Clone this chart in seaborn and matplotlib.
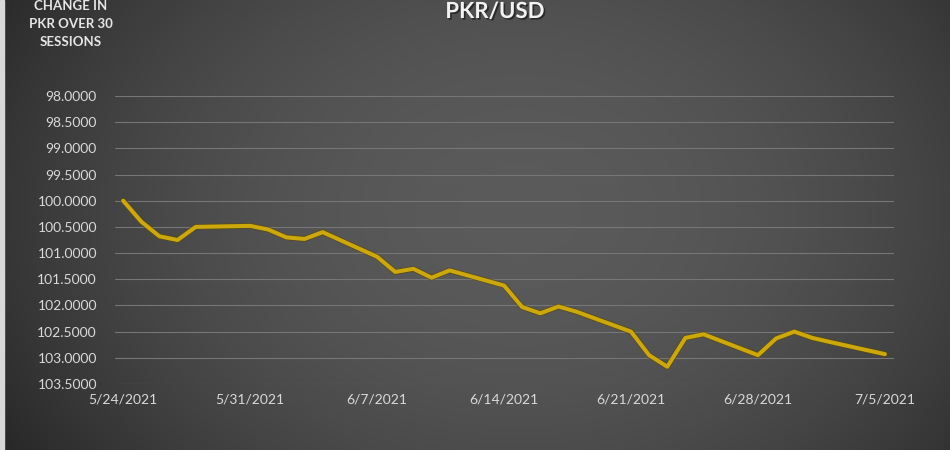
import numpy as np
import pandas as pd
import matplotlib
matplotlib.use("Agg")
import matplotlib.pyplot as plt
import matplotlib.dates as mdates
import matplotlib.patheffects as pe
import seaborn as sns

dates = ["2021-05-24", "2021-05-25", "2021-05-26", "2021-05-27", "2021-05-28",
         "2021-05-31", "2021-06-01", "2021-06-02", "2021-06-03", "2021-06-04",
         "2021-06-07", "2021-06-08", "2021-06-09", "2021-06-10", "2021-06-11",
         "2021-06-14", "2021-06-15", "2021-06-16", "2021-06-17", "2021-06-18",
         "2021-06-21", "2021-06-22", "2021-06-23", "2021-06-24", "2021-06-25",
         "2021-06-28", "2021-06-29", "2021-06-30", "2021-07-01", "2021-07-02",
         "2021-07-05"]
pkr_usd = [100.00, 100.40, 100.68, 100.75, 100.50,
           100.48, 100.55, 100.70, 100.73, 100.60,
           101.07, 101.36, 101.30, 101.47, 101.33,
           101.62, 102.03, 102.15, 102.02, 102.12,
           102.50, 102.95, 103.17, 102.62, 102.55,
           102.95, 102.63, 102.50, 102.62, 102.70,
           102.93]
y_ticks = [98.0, 98.5, 99.0, 99.5, 100.0, 100.5, 101.0, 101.5, 102.0, 102.5, 103.0, 103.5]
x_ticks = ["2021-05-24", "2021-05-31", "2021-06-07", "2021-06-14", "2021-06-21", "2021-06-28", "2021-07-05"]
title = "PKR/USD"
side_note = "CHANGE IN\nPKR OVER 30\nSESSIONS"

df = pd.DataFrame({"date": pd.to_datetime(dates), "rate": pkr_usd})

sns.set_theme(style="white")
plt.rcParams["font.family"] = ["Lato", "DejaVu Sans"]

fig = plt.figure(figsize=(9.5, 4.5), dpi=100)

# background radial gradient
bg = fig.add_axes([0, 0, 1, 1], zorder=0)
W, H = 950, 450
xx, yy = np.meshgrid(np.arange(W), np.arange(H))
r2 = ((xx - 520) / 560.0) ** 2 + ((yy - 210) / 420.0) ** 2
val = 0.355 - 0.17 * np.clip(r2, 0, 1.3)
img = np.dstack([val, val, val])
bg.imshow(img, extent=[0, W, H, 0], aspect="auto", interpolation="bilinear")
bg.add_patch(plt.Rectangle((0, 0), 4, H, color="#d8d8d8"))
bg.set_xlim(0, W)
bg.set_ylim(H, 0)
bg.axis("off")

ax = fig.add_axes([115 / W, 1 - 384 / H, (894 - 115) / W, (384 - 96) / H], zorder=1)
ax.set_facecolor("none")

sns.lineplot(data=df, x="date", y="rate", ax=ax, color="#CDA80A", linewidth=2.9,
             path_effects=[pe.Stroke(linewidth=4.2, foreground="#5a4a10", alpha=0.7), pe.Normal()],
             zorder=3)

ax.set_ylim(103.5, 98.0)
ax.set_yticks(y_ticks)
ax.yaxis.set_major_formatter(matplotlib.ticker.FuncFormatter(lambda v, p: f"{v:.4f}"))

xt = pd.to_datetime(x_ticks)
ax.set_xlim(mdates.date2num(xt[0]) - 0.45, mdates.date2num(xt[-1]) + 0.5)
ax.set_xticks(mdates.date2num(xt))
ax.set_xticklabels([f"{d.month}/{d.day}/{d.year}" for d in xt])

ax.grid(axis="y", color="#767676", linewidth=0.8)
ax.grid(axis="x", visible=False)
for s in ax.spines.values():
    s.set_visible(False)
ax.tick_params(axis="both", length=0, colors="#d9d9d9", labelsize=10)
ax.tick_params(axis="y", pad=13)
ax.tick_params(axis="x", pad=7)
ax.set_xlabel("")
ax.set_ylabel("")

fig.text(495 / W, 1 - 1 / H, title, ha="center", va="top", fontsize=16, fontweight="bold",
         color="#f2f2f2",
         path_effects=[pe.withSimplePatchShadow(offset=(1.2, -1.2), shadow_rgbFace="#111111", alpha=0.6)])
fig.text(71 / W, 1 - 24 / H, side_note, ha="center", va="center", fontsize=9.5, fontweight="bold",
         color="#e6e6e6", linespacing=1.6)

fig.savefig("out.png", dpi=100)
